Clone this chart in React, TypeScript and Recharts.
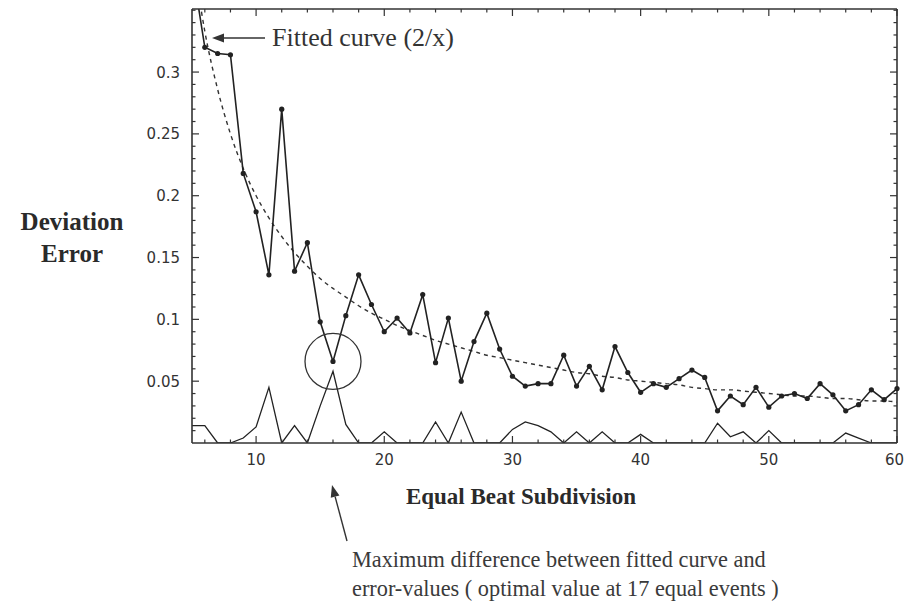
import React from 'react';
import { LineChart, Line, XAxis, YAxis, ReferenceDot } from 'recharts';

// --- data ---
const subdivisions = [
  5, 6, 7, 8, 9, 10, 11, 12, 13, 14, 15, 16, 17, 18, 19, 20, 21, 22, 23, 24, 25, 26, 27, 28, 29, 30, 31, 32,
  33, 34, 35, 36, 37, 38, 39, 40, 41, 42, 43, 44, 45, 46, 47, 48, 49, 50, 51, 52, 53, 54, 55, 56, 57, 58, 59, 60,
];

const deviationError = [
  0.386, 0.32, 0.315, 0.314, 0.218, 0.187, 0.136, 0.27, 0.139, 0.162, 0.098, 0.066, 0.103, 0.136, 0.112, 0.09,
  0.101, 0.089, 0.12, 0.065, 0.101, 0.05, 0.082, 0.105, 0.076, 0.054, 0.046, 0.048, 0.048, 0.071, 0.046, 0.062,
  0.043, 0.078, 0.057, 0.041, 0.048, 0.045, 0.052, 0.059, 0.053, 0.026, 0.038, 0.031, 0.045, 0.029, 0.038, 0.04,
  0.036, 0.048, 0.039, 0.026, 0.031, 0.043, 0.035, 0.044,
];

// fitted curve (2/x), as drawn
const fittedCurve = [
  0.4, 0.333, 0.286, 0.25, 0.222, 0.2, 0.182, 0.167, 0.154, 0.143, 0.133, 0.125, 0.118, 0.111, 0.105, 0.1,
  0.095, 0.091, 0.087, 0.083, 0.08, 0.077, 0.074, 0.071, 0.069, 0.067, 0.065, 0.063, 0.061, 0.059, 0.057, 0.056,
  0.054, 0.053, 0.051, 0.05, 0.049, 0.048, 0.047, 0.045, 0.044, 0.043, 0.043, 0.042, 0.041, 0.04, 0.039, 0.038,
  0.038, 0.037, 0.036, 0.036, 0.035, 0.034, 0.034, 0.033,
];

// difference between fit and error values (bottom trace)
const maxDifference = [
  0.014, 0.014, 0, 0, 0.004, 0.013, 0.045, 0, 0.014, 0, 0.03, 0.058, 0.015, 0, 0, 0.009,
  0, 0, 0, 0.017, 0, 0.025, 0, 0, 0, 0.011, 0.017, 0.014, 0.009, 0, 0.009, 0,
  0.009, 0, 0, 0.007, 0, 0, 0, 0, 0, 0.016, 0.005, 0.009, 0, 0.01, 0, 0,
  0, 0, 0, 0.008, 0.004, 0, 0, 0,
];

const xMajorTicks = [10, 20, 30, 40, 50, 60];
const yMajorTicks = [0.05, 0.1, 0.15, 0.2, 0.25, 0.3];
const yTickLabels = ['0.05', '0.1', '0.15', '0.2', '0.25', '0.3'];

const xTicks = subdivisions.filter((v) => v % 2 === 0);
const yTicks = Array.from({ length: 35 }, (_, i) => (i + 1) / 100);

const rows = subdivisions.map((x, i) => ({
  x,
  err: deviationError[i],
  fit: fittedCurve[i],
  diff: maxDifference[i],
}));

const INK = '#222';
const AXIS = '#333';
const SERIF = '"Liberation Serif", "Times New Roman", serif';
const SANS = '"DejaVu Sans", sans-serif';

const majorIndex = (list: number[], v: number) => list.findIndex((m) => Math.abs(m - v) < 1e-6);

const xTick = (side: 'bottom' | 'top') => (props: any) => {
  const { x, y, payload } = props;
  const major = majorIndex(xMajorTicks, payload.value) >= 0;
  const len = major ? 7 : 3.5;
  const dir = side === 'bottom' ? -1 : 1;
  const last = payload.value === xMajorTicks[xMajorTicks.length - 1];
  return (
    <g>
      <line x1={x} y1={y} x2={x} y2={y + dir * len} stroke={AXIS} strokeWidth={1.2} />
      {side === 'bottom' && major && (
        <text
          x={last ? x + 7 : x}
          y={y + 22}
          textAnchor={last ? 'end' : 'middle'}
          fontFamily={SANS}
          fontSize={15}
          fill="#333"
        >
          {payload.value}
        </text>
      )}
    </g>
  );
};

const yTick = (side: 'left' | 'right') => (props: any) => {
  const { x, y, payload } = props;
  const idx = majorIndex(yMajorTicks, payload.value);
  const len = idx >= 0 ? 7 : 3.5;
  const dir = side === 'left' ? 1 : -1;
  return (
    <g>
      <line x1={x} y1={y} x2={x + dir * len} y2={y} stroke={AXIS} strokeWidth={1.2} />
      {side === 'left' && idx >= 0 && (
        <text x={x - 12} y={y + 5.5} textAnchor="end" fontFamily={SANS} fontSize={15} fill="#333">
          {yTickLabels[idx]}
        </text>
      )}
    </g>
  );
};

// small arrow: line from tail to tip with a filled head
const Arrow = ({ x1, y1, x2, y2 }: { x1: number; y1: number; x2: number; y2: number }) => {
  const dx = x2 - x1;
  const dy = y2 - y1;
  const d = Math.hypot(dx, dy);
  const ux = dx / d;
  const uy = dy / d;
  const bx = x2 - ux * 12;
  const by = y2 - uy * 12;
  const px = -uy * 4.5;
  const py = ux * 4.5;
  return (
    <g>
      <line x1={x1} y1={y1} x2={bx} y2={by} stroke="#333" strokeWidth={1.4} />
      <polygon points={`${x2},${y2} ${bx + px},${by + py} ${bx - px},${by - py}`} fill="#333" />
    </g>
  );
};

export default function App() {
  return (
    <div style={{ position: 'absolute', left: 0, top: 0, width: 905, height: 604, background: '#fff' }}>
      <LineChart width={905} height={604} data={rows} margin={{ top: 4, right: 3, bottom: 131, left: 132 }}>
        <XAxis
          dataKey="x"
          type="number"
          domain={[5, 60]}
          ticks={xTicks}
          interval={0}
          height={30}
          tickSize={0}
          tickMargin={0}
          tick={xTick('bottom')}
          axisLine={{ stroke: AXIS, strokeWidth: 1.6 }}
        />
        <XAxis
          xAxisId="top"
          orientation="top"
          dataKey="x"
          type="number"
          domain={[5, 60]}
          ticks={xTicks}
          interval={0}
          height={5}
          tickSize={0}
          tickMargin={0}
          tick={xTick('top')}
          axisLine={{ stroke: AXIS, strokeWidth: 1.6 }}
        />
        <YAxis
          type="number"
          domain={[0, 0.351]}
          allowDataOverflow
          ticks={yTicks}
          interval={0}
          width={60}
          tickSize={0}
          tickMargin={0}
          tick={yTick('left')}
          axisLine={{ stroke: AXIS, strokeWidth: 1.6 }}
        />
        <YAxis
          yAxisId="right"
          orientation="right"
          type="number"
          domain={[0, 0.351]}
          allowDataOverflow
          ticks={yTicks}
          interval={0}
          width={5}
          tickSize={0}
          tickMargin={0}
          tick={yTick('right')}
          axisLine={{ stroke: AXIS, strokeWidth: 1.6 }}
        />
        <Line type="linear" dataKey="diff" stroke={INK} strokeWidth={1.3} dot={false} isAnimationActive={false} />
        <Line
          type="monotone"
          dataKey="fit"
          stroke="#333"
          strokeWidth={1.4}
          strokeDasharray="4 4"
          dot={false}
          isAnimationActive={false}
        />
        <Line
          type="linear"
          dataKey="err"
          stroke={INK}
          strokeWidth={1.6}
          dot={{ r: 2.6, fill: INK, stroke: 'none' }}
          isAnimationActive={false}
        />
        <ReferenceDot x={16} y={0.066} r={28} fill="none" stroke="#333" strokeWidth={1.3} />
      </LineChart>

      <svg width={905} height={604} style={{ position: 'absolute', left: 0, top: 0, pointerEvents: 'none' }}>
        <Arrow x1={265} y1={38} x2={212} y2={38} />
        <text x={272} y={46} fontFamily={SERIF} fontSize={26} fill="#333">
          Fitted curve (2/x)
        </text>

        <text x={72} y={230} textAnchor="middle" fontFamily={SERIF} fontSize={25} fontWeight="bold" fill="#2a2a2a">
          Deviation
        </text>
        <text x={72} y={262} textAnchor="middle" fontFamily={SERIF} fontSize={25} fontWeight="bold" fill="#2a2a2a">
          Error
        </text>

        <text x={521} y={504} textAnchor="middle" fontFamily={SERIF} fontSize={23} fontWeight="bold" fill="#2a2a2a">
          Equal Beat Subdivision
        </text>

        <Arrow x1={347} y1={541} x2={332} y2={485} />
        <text x={352} y={567} fontFamily={SERIF} fontSize={22.3} fill="#3a3a3a">
          Maximum difference between fitted curve and
        </text>
        <text x={352} y={596} fontFamily={SERIF} fontSize={22.3} fill="#3a3a3a">
          error-values ( optimal value at 17 equal events )
        </text>
      </svg>
    </div>
  );
}
